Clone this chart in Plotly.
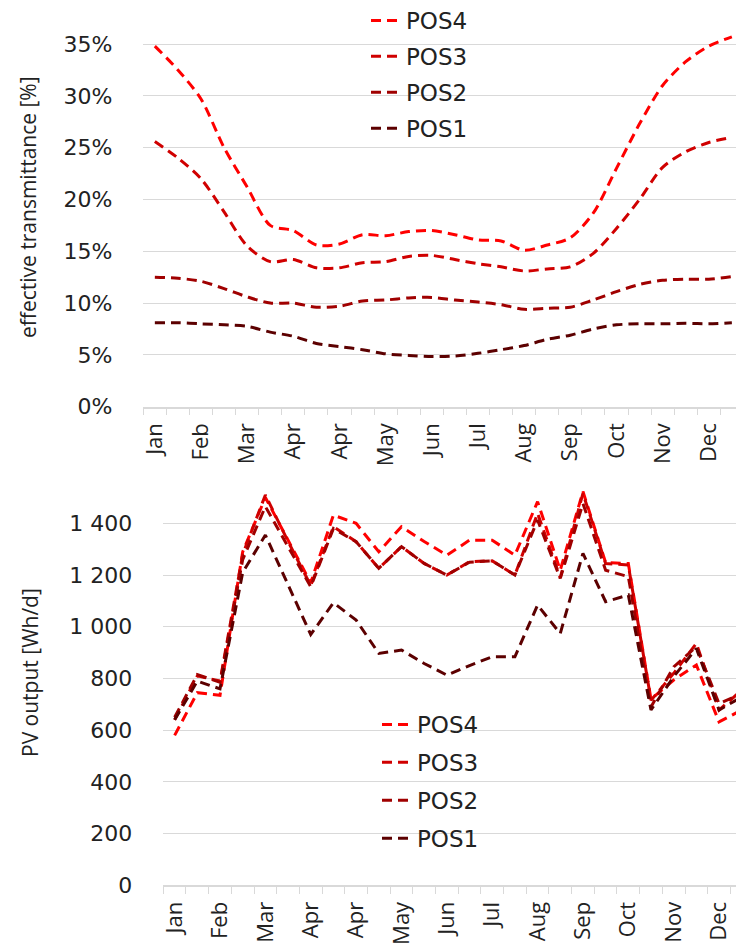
import plotly.graph_objects as go

# ---------------------------------------------------------------------------
# Data
# ---------------------------------------------------------------------------

PERIODS = ["Jan", "", "Feb", "", "Mar", "", "Apr", "", "Apr", "", "May", "", "Jun", "",
           "Jul", "", "Aug", "", "Sep", "", "Oct", "", "Nov", "", "Dec", ""]

SERIES = ["POS4", "POS3", "POS2", "POS1"]

# effective transmittance [%]
TRANS_POS4 = [34.8, 32.5, 29.7, 25.0, 21.2, 17.5, 17.0, 15.6, 15.7, 16.6, 16.5, 16.9, 17.0,
              16.6, 16.1, 16.0, 15.1, 15.6, 16.3, 18.7, 23.0, 27.3, 31.0, 33.3, 34.8, 35.7]
TRANS_POS3 = [25.6, 24.0, 22.0, 18.8, 15.5, 14.0, 14.2, 13.4, 13.4, 13.9, 14.0, 14.5, 14.6,
              14.2, 13.8, 13.5, 13.1, 13.3, 13.5, 14.8, 17.2, 20.0, 23.1, 24.6, 25.5, 26.0]
TRANS_POS2 = [12.5, 12.4, 12.1, 11.4, 10.6, 10.0, 10.0, 9.6, 9.7, 10.2, 10.3, 10.5, 10.55,
              10.3, 10.1, 9.85, 9.4, 9.5, 9.6, 10.3, 11.1, 11.8, 12.2, 12.3, 12.3, 12.55]
TRANS_POS1 = [8.1, 8.1, 8.0, 7.9, 7.75, 7.2, 6.8, 6.1, 5.8, 5.5, 5.1, 4.95, 4.85,
              4.9, 5.15, 5.5, 5.9, 6.5, 6.9, 7.5, 7.9, 8.0, 8.0, 8.05, 8.0, 8.1]

# PV output [Wh/d]
PV_POS4 = [580, 745, 735, 1290, 1500, 1335, 1170, 1432, 1400, 1290, 1387, 1330, 1277,
           1335, 1335, 1277, 1484, 1219, 1523, 1248, 1245, 720, 794, 852, 632, 678]
PV_POS3 = [640, 810, 790, 1280, 1510, 1330, 1160, 1387, 1329, 1226, 1310, 1245, 1200,
           1252, 1255, 1200, 1439, 1190, 1516, 1245, 1239, 716, 820, 936, 678, 755]
PV_POS2 = [650, 815, 785, 1260, 1465, 1310, 1155, 1380, 1329, 1226, 1310, 1245, 1200,
           1250, 1255, 1200, 1413, 1187, 1477, 1219, 1194, 690, 845, 923, 703, 742]
PV_POS1 = [640, 790, 760, 1210, 1355, 1160, 970, 1093, 1026, 897, 910, 858, 813,
           850, 884, 884, 1084, 974, 1284, 1097, 1123, 678, 807, 916, 678, 729]

TRANS_TICKS = [0, 5, 10, 15, 20, 25, 30, 35]
TRANS_TICK_TEXT = ["0%", "5%", "10%", "15%", "20%", "25%", "30%", "35%"]
PV_TICKS = [0, 200, 400, 600, 800, 1000, 1200, 1400]
PV_TICK_TEXT = ["0", "200", "400", "600", "800", "1 000", "1 200", "1 400"]

# ---------------------------------------------------------------------------
# Style / geometry
# ---------------------------------------------------------------------------

_COLORS = {"POS4": "#FF0000", "POS3": "#D00000", "POS2": "#A00000", "POS1": "#5C0000"}
_TEXT = "#222222"
_GRID = "#D9D9D9"
_FONT = "Open Sans"
_WIDE = "DejaVu Sans"     # the reference text is stretched horizontally
_DASH = "10px,6px"

# the page body has an 8px margin, so the figure is drawn 8px in from the corner
_W, _H, _OFF = 736, 936, 8


def px_x(x):
    """screen pixel x -> paper fraction"""
    return (x - _OFF) / _W


def px_y(y):
    """screen pixel y -> paper fraction"""
    return 1 - (y - _OFF) / _H


x_idx = list(range(len(PERIODS)))
label_vals = [i for i, p in enumerate(PERIODS) if p]
label_text = [p for p in PERIODS if p]

trans = dict(zip(SERIES, [TRANS_POS4, TRANS_POS3, TRANS_POS2, TRANS_POS1]))
pv = dict(zip(SERIES, [PV_POS4, PV_POS3, PV_POS2, PV_POS1]))

fig = go.Figure()

for name in SERIES:
    fig.add_trace(go.Scatter(
        x=x_idx, y=trans[name], name=name,
        mode="lines",
        line=dict(color=_COLORS[name], width=3, dash=_DASH, shape="spline", smoothing=0.8),
        xaxis="x", yaxis="y", legend="legend", legendgroup="t" + name,
    ))

for name in SERIES:
    fig.add_trace(go.Scatter(
        x=x_idx, y=pv[name], name=name,
        mode="lines",
        line=dict(color=_COLORS[name], width=3, dash=_DASH),
        xaxis="x2", yaxis="y2", legend="legend2", legendgroup="b" + name,
    ))

_xcommon = dict(
    tickmode="array", tickvals=label_vals, ticktext=label_text,
    tickangle=-90, ticks="", showgrid=False, zeroline=False, automargin=False,
    showline=True, linecolor=_GRID, linewidth=1.5,
    tickfont=dict(size=22, color=_TEXT, family=_FONT),
    ticklabelstandoff=6,
    minor=dict(tickmode="linear", tick0=-0.5, dtick=1, ticks="outside",
               ticklen=7, tickcolor=_GRID, tickwidth=1, showgrid=False),
)
_ycommon = dict(
    tickmode="array", showgrid=True, gridcolor=_GRID, gridwidth=1,
    zeroline=False, showline=False, ticks="", automargin=False,
    tickfont=dict(size=22, color=_TEXT, family=_WIDE),
    ticklabelstandoff=30,
)

_legend = dict(
    bgcolor="rgba(0,0,0,0)", font=dict(size=23, color=_TEXT, family=_WIDE),
    itemwidth=30, xanchor="left", yanchor="top",
)

fig.update_layout(
    width=_W, height=_H,
    margin=dict(l=0, r=0, t=0, b=0, autoexpand=False),
    paper_bgcolor="white", plot_bgcolor="white",
    font=dict(family=_FONT, color=_TEXT),
    xaxis=dict(domain=[px_x(143.3), px_x(743.4)], range=[-0.5, 25.5], anchor="y", **_xcommon),
    yaxis=dict(domain=[px_y(406.7), px_y(28.5)], range=[0, 36.5], anchor="x",
               tickvals=TRANS_TICKS, ticktext=TRANS_TICK_TEXT, **_ycommon),
    xaxis2=dict(domain=[px_x(163.3), 1.0], range=[-0.5, 25.1], anchor="y2", **_xcommon),
    yaxis2=dict(domain=[px_y(885.3), px_y(484.6)], range=[0, 1550], anchor="x2",
                tickvals=PV_TICKS, ticktext=PV_TICK_TEXT, **_ycommon),
    legend=dict(x=px_x(366), y=px_y(-1), tracegroupgap=3, **_legend),
    legend2=dict(x=px_x(377), y=px_y(703), tracegroupgap=5, **_legend),
    annotations=[
        dict(text="effective transmittance [%]", textangle=-90, showarrow=False,
             xref="paper", yref="paper", x=px_x(28), y=px_y(207),
             xanchor="center", yanchor="middle",
             font=dict(size=21, color=_TEXT, family=_FONT)),
        dict(text="PV output [Wh/d]", textangle=-90, showarrow=False,
             xref="paper", yref="paper", x=px_x(30), y=px_y(673),
             xanchor="center", yanchor="middle",
             font=dict(size=21, color=_TEXT, family=_FONT)),
    ],
)

fig.write_html("out.html")
